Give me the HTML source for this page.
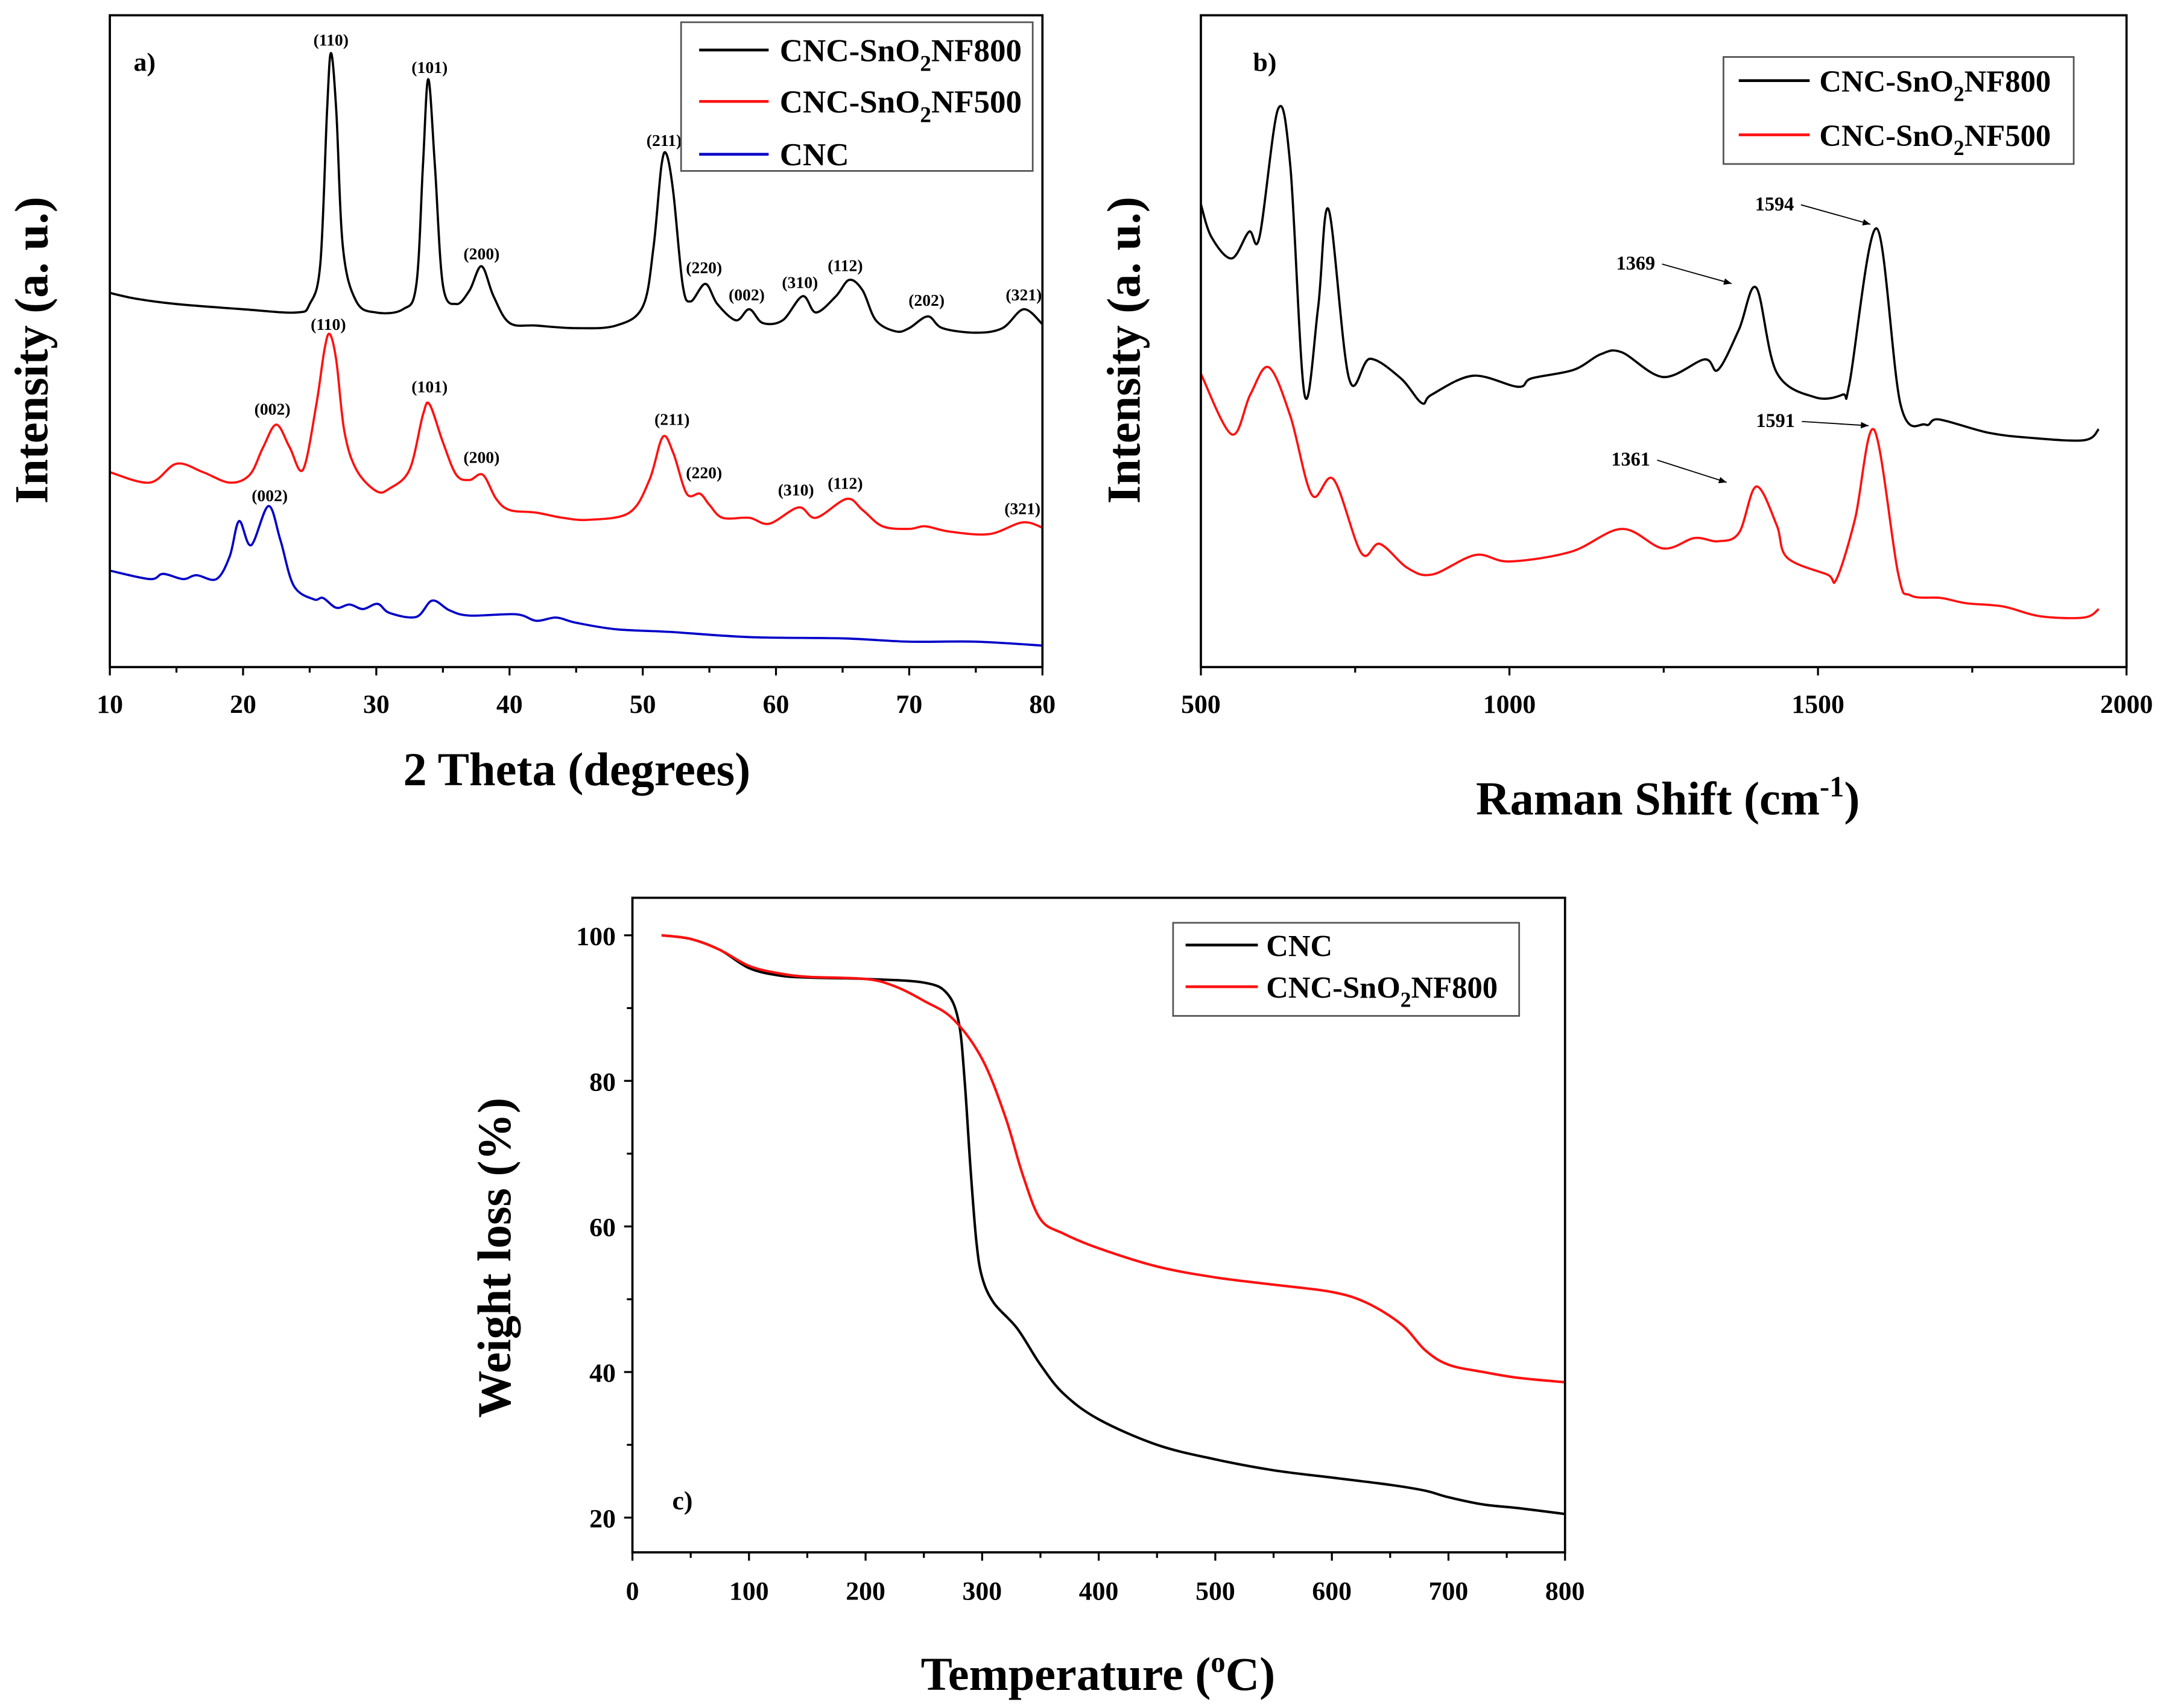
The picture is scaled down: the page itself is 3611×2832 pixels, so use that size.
<!DOCTYPE html>
<html><head><meta charset="utf-8"><style>
html,body{margin:0;padding:0;background:#fff;}
svg{display:block;}
text{font-family:"Liberation Serif",serif;font-weight:bold;fill:#000;}
</style></head><body>
<svg id="fig" width="3611" height="2832" viewBox="0 0 1567 1229" xmlns="http://www.w3.org/2000/svg"></svg>
<script>
// ---------- Panel a: XRD ----------
const xrdBlackX=[10,12,15,20,24,25,25.8,26.3,26.6,27,27.5,28.5,30,32,33,33.5,33.9,34.4,35,36,37,37.9,38.8,40,42,45,48,50,50.8,51.4,51.8,52.3,53,53.6,54.7,55.6,57,58,59,60.5,62,63,64.5,65.5,66.5,67.5,69,70,71.4,72.5,75,77,78.6,80];
const xrdBlackY=[57.4,56.5,55.7,54.9,54.4,55.7,61.9,85.2,94.2,85.2,64.3,56.1,54.4,54.9,58.6,76.9,90.2,76.9,58.6,55.7,57.8,61.5,56.9,52.8,52.4,52.0,52.4,55.3,64.3,76.9,78.6,72.7,58.6,56.1,58.8,55.7,53.2,54.9,52.8,53.2,56.9,54.4,56.9,59.4,57.8,53.2,51.5,52.0,53.8,52.0,51.3,52.0,54.9,52.6];
const xrdRedX=[10,13,15,17,19,20.5,21.5,22.5,23.5,24.5,25.5,26.1,26.5,27,27.6,28.5,30,31,32.5,33.5,34,35,36,37,38,39,40,42,44,46,49,50.5,51.5,52.3,53.3,54.3,55,56,58,59.5,61.7,63,65.3,66.5,68,70,71.2,73,76,78.5,80];
const xrdRedY=[29.9,28.3,31.2,29.9,28.3,29.5,33.7,37.2,33.7,30.3,40.3,48.6,51.1,47.0,36.2,30.3,27.0,27.4,30.3,38.7,40.3,34.5,29.5,28.7,29.5,25.8,24.1,23.7,22.9,22.6,23.7,28.7,35.3,32.8,26.6,26.6,24.9,22.9,22.9,22.0,24.5,22.9,25.8,24.1,21.6,21.2,21.6,20.8,20.4,22.2,21.4];
const xrdBlueX=[10,13,14,15.5,16.5,18,19,19.7,20.6,21.9,22.8,23.8,25.3,26,27,28,29,30.1,31,33,34.2,35.5,37,40.5,42,43.5,45,48,52,58,65,70,75,80];
const xrdBlueY=[14.8,13.5,14.3,13.5,14.1,13.5,17.0,22.4,18.7,24.7,19.5,12.5,10.4,10.6,9.1,9.6,8.9,9.7,8.3,7.7,10.2,8.7,7.9,8.1,7.1,7.6,6.8,5.8,5.4,4.6,4.4,3.9,3.9,3.3];
const xrdTicks=[10,20,30,40,50,60,70,80];
const blackLabels=["(110)","(101)","(200)","(211)","(220)","(002)","(310)","(112)","(202)","(321)"];
const blackLabelX=[26.6,34,37.9,51.6,54.6,57.8,61.8,65.2,71.3,78.6];
const blackLabelY=[96.2,92.0,63.4,80.8,61.3,57.1,59.0,61.6,56.3,57.1];
const redLabels=["(002)","(110)","(101)","(200)","(211)","(220)","(310)","(112)","(321)"];
const redLabelX=[22.2,26.4,34,37.9,52.2,54.6,61.5,65.2,78.5];
const redLabelY=[39.6,52.6,43.0,32.2,38.0,29.8,27.2,28.2,24.3];
const blueLabels=["(002)"];
const blueLabelX=[22.0];
const blueLabelY=[26.3];
// ---------- Panel b: Raman ----------
const ramBlackX=[500,517,550,578,595,625,645,668,690,707,740,774,824,858,874,941,1014,1036,1104,1148,1182,1249,1316,1338,1372,1400,1433,1495,1540,1551,1595,1634,1674,1696,1774,1841,1931,1955];
const ramBlackY=[71.0,66.0,62.7,66.8,66.0,85.6,76.8,41.8,55.2,70.2,44.3,47.3,44.3,40.5,41.8,44.7,43.0,44.3,45.6,48.0,48.3,44.5,47.2,45.6,51.8,58.2,45.2,41.4,41.8,43.5,67.3,40.2,37.2,38.0,36.0,35.2,34.8,36.5];
const ramRedX=[500,550,580,610,645,680,715,760,790,835,875,945,1000,1100,1182,1249,1300,1338,1372,1400,1433,1450,1515,1530,1560,1591,1630,1650,1700,1740,1800,1860,1931,1955];
const ramRedY=[45.0,35.7,41.8,46.0,38.5,26.4,28.8,17.5,18.9,15.2,14.2,17.2,16.2,17.7,21.2,18.2,19.8,19.3,20.6,27.7,21.8,16.8,14.2,13.5,22.7,36.4,14.3,11.0,10.6,9.8,9.3,7.8,7.6,8.9];
const ramTicks=[500,1000,1500,2000];
const ramNotes=["1594","1369","1591","1361"];
const ramNoteX=[1594,1369,1591,1361];
const ramNoteY=[67.3,58.2,36.4,27.7];
// ---------- Panel c: TGA ----------
const tgaBlackX=[25,50,75,100,125,150,200,250,270,280,285,290,295,300,310,330,350,370,400,450,500,550,600,650,680,700,730,760,800];
const tgaBlackY=[100,99.5,98,95.5,94.5,94.2,94,93.5,92,88,80,68,58,53,49.5,46,41,37,33.5,30,28,26.5,25.5,24.5,23.7,22.8,21.8,21.3,20.5];
const tgaRedX=[25,50,75,100,125,150,200,225,250,275,300,320,335,350,370,400,450,500,550,600,630,660,680,700,730,760,800];
const tgaRedY=[100,99.5,98,95.8,94.8,94.3,94,93,91,88.5,83,75,67,61,59,57,54.5,53,52,51,49.5,46.5,43,41,40,39.2,38.6];
const tgaXTicks=[0,100,200,300,400,500,600,700,800];
const tgaYTicks=[20,40,60,80,100];

const NS="http://www.w3.org/2000/svg";
const svg=document.getElementById('fig');
function mk(tag,attrs,parent){const e=document.createElementNS(NS,tag);for(const k in attrs)e.setAttribute(k,attrs[k]);(parent||svg).appendChild(e);return e;}
function lin(d0,d1,r0,r1){return v=>r0+(v-d0)/(d1-d0)*(r1-r0);}
function pathD(xs,ys,sx,sy){
  const p=xs.map((x,i)=>[sx(x),sy(ys[i])]);
  let d="M"+p[0][0].toFixed(2)+","+p[0][1].toFixed(2);
  for(let i=0;i<p.length-1;i++){
    const p0=p[i-1]||p[i],p1=p[i],p2=p[i+1],p3=p[i+2]||p2;
    const c1=[p1[0]+(p2[0]-p0[0])/6,p1[1]+(p2[1]-p0[1])/6];
    const c2=[p2[0]-(p3[0]-p1[0])/6,p2[1]-(p3[1]-p1[1])/6];
    d+="C"+c1[0].toFixed(2)+","+c1[1].toFixed(2)+" "+c2[0].toFixed(2)+","+c2[1].toFixed(2)+" "+p2[0].toFixed(2)+","+p2[1].toFixed(2);
  }
  return d;
}
function txt(s,x,y,size,parent,anchor){const t=mk('text',{x:x,y:y,'font-size':size,'text-anchor':anchor||'middle'},parent);t.textContent=s;return t;}
function chemLabel(parent,x,y,size,pre,post){
  const t=mk('text',{x:x,y:y,'font-size':size},parent);
  t.appendChild(document.createTextNode(pre));
  const s=mk('tspan',{dy:size*0.3,'font-size':size*0.7},t);s.textContent="2";
  const r=mk('tspan',{dy:-size*0.3},t);r.textContent=post;
  return t;
}

// ===== Panel a =====
{
const g=mk('g',{});


const X0=79,X1=750,Y0=11,Y1=480;
const sx=lin(10,80,X0,X1), sy=lin(0,100,Y1,Y0);
[[xrdBlueX,xrdBlueY,'#0000c8','cnc-xrd-line'],[xrdRedX,xrdRedY,'#ff1010','nf500-xrd-line'],[xrdBlackX,xrdBlackY,'#000','nf800-xrd-line']].forEach(s=>{
  const p=mk('path',{d:pathD(s[0],s[1],sx,sy),fill:'none',stroke:s[2],'stroke-width':1.6},g);
  
  
});
mk('rect',{x:X0,y:Y0,width:X1-X0,height:Y1-Y0,fill:'none',stroke:'#000','stroke-width':1.6},g);
for(let v=10;v<=80;v+=5){const big=v%10===0;mk('line',{x1:sx(v),x2:sx(v),y1:Y1,y2:Y1+(big?6:4),stroke:'#000','stroke-width':1.4},g);}
xrdTicks.forEach(v=>{const t=txt(v,sx(v),Y1+33,19,g);});
const xt=txt("2 Theta (degrees)",415,565,34,g);
const yt=txt("Intensity (a. u.)",0,0,34,g);yt.setAttribute('transform','translate(34,252) rotate(-90)');

txt("a)",104,51,19,g);
[[blackLabels,blackLabelX,blackLabelY],[redLabels,redLabelX,redLabelY],[blueLabels,blueLabelX,blueLabelY]].forEach(L=>{
  L[0].forEach((s,i)=>{const t=txt(s,sx(L[1][i]),sy(L[2][i])+4,12,g);});
});
const lg=mk('g',{},g);


mk('rect',{x:490,y:16,width:253,height:107,fill:'#fff',stroke:'#555','stroke-width':1.2},lg);
[["#000","NF800",36],["#ff1010","NF500",73]].forEach(e=>{mk('line',{x1:503,x2:553,y1:e[2],y2:e[2],stroke:e[0],'stroke-width':2},lg);chemLabel(lg,561,e[2]+8,23,"CNC-SnO",e[1]);});
mk('line',{x1:503,x2:553,y1:111,y2:111,stroke:'#0000c8','stroke-width':2},lg);
const t=mk('text',{x:561,y:119,'font-size':23},lg);t.textContent="CNC";
}

// ===== Panel b =====
{
const g=mk('g',{});


const X0=864,X1=1530,Y0=11,Y1=480;
const sx=lin(500,2000,X0,X1), sy=lin(0,100,Y1,Y0);
[[ramRedX,ramRedY,'#ff1010','nf500-raman-line'],[ramBlackX,ramBlackY,'#000','nf800-raman-line']].forEach(s=>{
  const p=mk('path',{d:pathD(s[0],s[1],sx,sy),fill:'none',stroke:s[2],'stroke-width':1.6},g);
  
  
});
mk('rect',{x:X0,y:Y0,width:X1-X0,height:Y1-Y0,fill:'none',stroke:'#000','stroke-width':1.6},g);
for(let v=500;v<=2000;v+=250){const big=v%500===0;mk('line',{x1:sx(v),x2:sx(v),y1:Y1,y2:Y1+(big?6:4),stroke:'#000','stroke-width':1.4},g);}
ramTicks.forEach(v=>{const t=txt(v,sx(v),Y1+33,19,g);});
const xt=mk('text',{x:1200,y:586,'font-size':34,'text-anchor':'middle'},g);
xt.appendChild(document.createTextNode("Raman Shift (cm"));
const sup=mk('tspan',{dy:-13,'font-size':21},xt);sup.textContent="-1";
const cl=mk('tspan',{dy:13},xt);cl.textContent=")";

const yt=txt("Intensity (a. u.)",0,0,34,g);yt.setAttribute('transform','translate(820,252) rotate(-90)');

txt("b)",910,51,19,g);
const dx=[-52,-52,-50,-52], dy=[-14,-14,-3,-16];
ramNotes.forEach((s,i)=>{
  const ex=sx(ramNoteX[i])-4, ey=sy(ramNoteY[i])-3;
  const tx=ex+dx[i], ty=ey+dy[i];
  const t=txt(s,tx-17,ty+4,14,g);
  mk('line',{x1:tx+2,y1:ty,x2:ex,y2:ey,stroke:'#000','stroke-width':0.8},g);
  const ang=Math.atan2(ey-ty,ex-tx);
  const a1=[ex-6*Math.cos(ang-0.4),ey-6*Math.sin(ang-0.4)],a2=[ex-6*Math.cos(ang+0.4),ey-6*Math.sin(ang+0.4)];
  mk('polygon',{points:`${ex},${ey} ${a1[0]},${a1[1]} ${a2[0]},${a2[1]}`,fill:'#000'},g);
});
const lg=mk('g',{},g);


mk('rect',{x:1240,y:41,width:252,height:77,fill:'#fff',stroke:'#555','stroke-width':1.2},lg);
[["#000","NF800",58],["#ff1010","NF500",97]].forEach(e=>{mk('line',{x1:1251,x2:1302,y1:e[2],y2:e[2],stroke:e[0],'stroke-width':2},lg);chemLabel(lg,1309,e[2]+8,22,"CNC-SnO",e[1]);});
}

// ===== Panel c =====
{
const g=mk('g',{});


const X0=455,X1=1126,Y0=646,Y1=1117;
const sx=lin(0,800,X0,X1), sy=lin(20,100,1092,673);
[[tgaBlackX,tgaBlackY,'#000','cnc-tga-line'],[tgaRedX,tgaRedY,'#ff1010','nf800-tga-line']].forEach(s=>{
  const p=mk('path',{d:pathD(s[0],s[1],sx,sy),fill:'none',stroke:s[2],'stroke-width':1.8},g);
  
  
});
mk('rect',{x:X0,y:Y0,width:X1-X0,height:Y1-Y0,fill:'none',stroke:'#000','stroke-width':1.6},g);
for(let v=0;v<=800;v+=50){const big=v%100===0;mk('line',{x1:sx(v),x2:sx(v),y1:Y1,y2:Y1+(big?6:4),stroke:'#000','stroke-width':1.4},g);}
for(let v=20;v<=100;v+=10){const big=v%20===0;mk('line',{x1:X0,x2:X0-(big?6:4),y1:sy(v),y2:sy(v),stroke:'#000','stroke-width':1.4},g);}
tgaXTicks.forEach(v=>{const t=txt(v,sx(v),Y1+34,19,g);});
tgaYTicks.forEach(v=>{const t=txt(v,X0-12,sy(v)+7,19,g,'end');});
const xt=mk('text',{x:790,y:1216,'font-size':34,'text-anchor':'middle'},g);
xt.appendChild(document.createTextNode("Temperature ("));
const sup=mk('tspan',{dy:-13,'font-size':21},xt);sup.textContent="o";
const cl=mk('tspan',{dy:13},xt);cl.textContent="C)";

const yt=txt("Weight loss (%)",0,0,34,g);yt.setAttribute('transform','translate(367,905) rotate(-90)');

txt("c)",491,1086,19,g);
const lg=mk('g',{},g);


mk('rect',{x:844,y:664,width:249,height:67,fill:'#fff',stroke:'#555','stroke-width':1.2},lg);
mk('line',{x1:853,x2:905,y1:680,y2:680,stroke:'#000','stroke-width':2},lg);
const t=mk('text',{x:911,y:688,'font-size':22},lg);t.textContent="CNC";
mk('line',{x1:853,x2:905,y1:710,y2:710,stroke:'#ff1010','stroke-width':2},lg);
chemLabel(lg,911,718,22,"CNC-SnO","NF800");
}
</script>
</body></html>
